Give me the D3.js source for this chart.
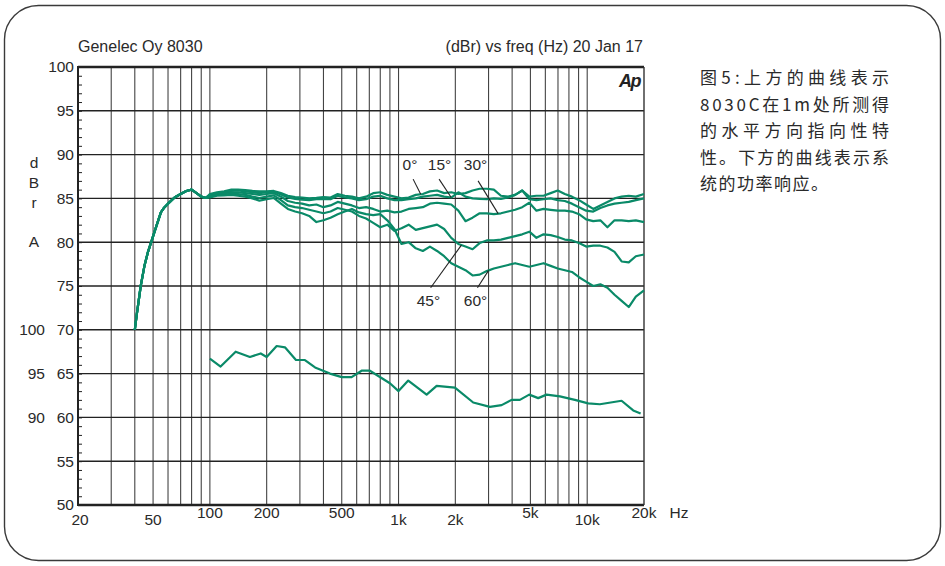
<!DOCTYPE html>
<html><head><meta charset="utf-8">
<script src="https://cdn.jsdelivr.net/npm/d3@7"></script>
<style>
body{margin:0;background:#fff;}
svg{display:block;font-family:"Liberation Sans",Arial,Helvetica,sans-serif;}
</style></head><body>
<svg id="chart" width="945" height="566"></svg>
<script>
// Low-frequency roll-off, common to every angle (Hz / dBr)
const lowFreqs = [40, 41, 42, 43, 45, 47, 49, 52, 55, 57, 60, 65, 70, 75, 80, 85, 90, 95];
const lowDb = [70.0, 71.8, 73.4, 75.0, 77.3, 78.9, 80.1, 81.8, 83.4, 83.9, 84.4, 85.1, 85.5, 85.85, 86.0, 85.6, 85.2, 85.05];

// Horizontal directivity, 1/8-octave points from 100 Hz
const freqs = [100, 109, 119, 130, 141, 154, 168, 183, 200, 218, 238, 259, 283, 308, 336, 367,
  400, 436, 476, 519, 566, 617, 673, 734, 800, 872, 951, 1037, 1131, 1234, 1345, 1467,
  1600, 1745, 1903, 2075, 2263, 2468, 2691, 2935, 3200, 3490, 3806, 4150, 4525, 4935, 5382, 5869,
  6400, 6979, 7611, 8300, 9051, 9870, 10763, 11738, 12800, 13959, 15222, 16600, 18102, 20000];
const deg0 = [85.5, 85.7, 85.8, 86.0, 86.0, 85.95, 85.85, 85.8, 85.8, 85.85, 85.6, 85.3, 85.15, 85.1, 85.0, 85.05,
  85.15, 85.1, 85.5, 85.3, 85.2, 85.0, 85.2, 85.6, 85.7, 85.4, 85.2, 85.0, 85.1, 85.4, 85.5, 85.8,
  85.9, 85.6, 85.7, 85.5, 85.6, 85.9, 86.1, 86.1, 86.0, 85.3, 85.2, 85.4, 85.9, 85.2, 85.3, 85.3,
  85.6, 85.9, 85.5, 85.2, 84.8, 84.3, 83.8, 84.2, 84.6, 85.0, 85.2, 85.3, 85.2, 85.5];
const deg15 = [85.4, 85.6, 85.7, 85.85, 85.9, 85.8, 85.7, 85.6, 85.7, 85.75, 85.45, 85.1, 84.95, 84.85, 84.8, 84.9,
  84.95, 84.9, 85.3, 85.1, 85.0, 84.8, 84.9, 85.2, 85.3, 85.0, 84.8, 84.8, 84.9, 85.0, 85.2, 85.3,
  85.4, 85.2, 85.1, 85.7, 85.2, 85.0, 84.95, 84.9, 85.0, 84.95, 85.1, 85.4, 85.9, 84.9, 84.8, 84.9,
  85.0, 84.8, 84.7, 84.4, 84.0, 83.6, 83.5, 83.9, 84.2, 84.4, 84.5, 84.6, 84.8, 85.0];
const deg30 = [85.3, 85.5, 85.6, 85.7, 85.7, 85.6, 85.5, 85.4, 85.5, 85.6, 85.2, 84.7, 84.5, 84.4, 84.2, 84.3,
  84.0, 84.2, 84.6, 84.4, 84.2, 83.9, 84.0, 83.8, 83.5, 83.6, 83.4, 83.5, 83.8, 83.9, 84.0, 84.4,
  84.5, 84.4, 84.3, 83.6, 82.4, 82.8, 83.3, 83.3, 83.2, 83.3, 83.5, 83.7, 84.0, 84.5, 83.6, 83.8,
  83.7, 83.6, 83.6, 83.5, 83.2, 82.6, 82.4, 82.5, 81.7, 82.5, 82.5, 82.4, 82.5, 82.3];
const deg45 = [85.2, 85.4, 85.5, 85.5, 85.5, 85.4, 85.2, 85.05, 85.2, 85.35, 84.8, 84.2, 84.0, 83.9, 83.7, 83.5,
  83.3, 83.5, 83.9, 83.7, 83.5, 83.0, 82.7, 82.2, 81.7, 82.0, 81.3, 81.6, 82.0, 81.4, 81.6, 81.8,
  82.0, 81.5, 80.5, 79.8, 79.5, 79.2, 79.9, 80.2, 80.2, 80.3, 80.5, 80.7, 80.9, 81.2, 80.5, 80.9,
  80.8, 80.6, 80.3, 80.2, 79.9, 79.5, 79.6, 79.6, 79.4, 78.9, 77.8, 77.7, 78.4, 78.6];
const deg60 = [85.1, 85.3, 85.35, 85.4, 85.3, 85.2, 85.0, 84.75, 84.9, 85.05, 84.4, 83.8, 83.5, 83.3, 83.0, 82.3,
  82.5, 82.8, 83.2, 83.5, 83.8, 83.4, 83.2, 83.1, 83.2, 82.5, 81.5, 79.8, 80.0, 79.3, 79.0, 79.5,
  79.0, 78.4, 77.6, 77.2, 76.8, 76.2, 76.3, 76.7, 77.0, 77.2, 77.4, 77.6, 77.4, 77.2, 77.4, 77.6,
  77.3, 77.0, 76.8, 76.6, 76.0, 75.5, 75.0, 75.2, 74.8, 74.0, 73.3, 72.6, 73.8, 74.5];

const angleNames = ["0°", "15°", "30°", "45°", "60°"];
const angleSeries = [deg0, deg15, deg30, deg45, deg60];

// System power response, read on the secondary scale (90-100)
const powerFreqs = [100, 114, 137, 163, 186, 200, 226, 250, 286, 319, 361, 433, 500, 564, 637, 705, 900, 1000,
  1126, 1409, 1592, 1990, 2488, 3050, 3518, 3975, 4396, 4928, 5498, 6092, 7168, 8604, 10120, 11674, 15212, 17532, 19192];
const powerDb = [96.7, 95.8, 97.5, 96.9, 97.3, 96.9, 98.15, 98.0, 96.55, 96.55, 95.7, 95.0, 94.6, 94.6, 95.33, 95.33, 93.9, 93.0,
  94.2, 92.6, 93.6, 93.4, 91.7, 91.2, 91.4, 92.0, 92.0, 92.6, 92.2, 92.6, 92.4, 92.0, 91.6, 91.5, 91.9, 90.8, 90.45];

// Axis ticks
const yTicks = [50, 55, 60, 65, 70, 75, 80, 85, 90, 95, 100];
const powerTicks = [90, 95, 100];
const xTickValues = [20, 50, 100, 200, 500, 1000, 2000, 5000, 10000, 20000];
const xTickLabels = ["20", "50", "100", "200", "500", "1k", "2k", "5k", "10k", "20k"];
const gridFreqs = [30, 40, 50, 60, 70, 80, 90, 100, 200, 300, 400, 500, 600, 700, 800, 900,
  1000, 2000, 3000, 4000, 5000, 6000, 7000, 8000, 9000, 10000];

// Where each angle label sits and the frequency its leader line points to
const angleNotes = [
  {name: "0°", tx: 1150, ty: 88.2, lx: 1195, ly: 87.2, f: 1311},
  {name: "15°", tx: 1650, ty: 88.2, lx: 1640, ly: 87.2, f: 1902},
  {name: "30°", tx: 2560, ty: 88.2, lx: 2640, ly: 87.0, f: 3372},
  {name: "45°", tx: 1440, ty: 72.7, lx: 1480, ly: 74.8, f: 2154},
  {name: "60°", tx: 2560, ty: 72.7, lx: 2620, ly: 74.8, f: 3002}
];

const captionLines = ["图5:上方的曲线表示", "8030C在1m处所测得", "的水平方向指向性特", "性。下方的曲线表示系", "统的功率响应。"];

const svg = d3.select("#chart");
const green = "#0a8a68";
const ink = "#2a2a2a";
const labelSize = 15.5;

const x = d3.scaleLog().domain([20, 20000]).range([78, 644]);
const y = d3.scaleLinear().domain([50, 100]).range([505, 67]);
const yPow = d3.scaleLinear().domain([80, 130]).range([505, 67]);

// rounded outer frame
svg.append("rect").attr("x", 4.5).attr("y", 5.5).attr("width", 936).attr("height", 555)
  .attr("rx", 34).attr("ry", 34).attr("fill", "none").attr("stroke", "#3a3a3a").attr("stroke-width", 1.4);

// vertical grid
svg.append("g").selectAll("line").data(gridFreqs).join("line")
  .attr("x1", d => x(d)).attr("x2", d => x(d)).attr("y1", y(100)).attr("y2", y(50))
  .attr("stroke", "#444").attr("stroke-width", 1.1);

// horizontal grid
svg.append("g").selectAll("line").data(yTicks.slice(1, -1)).join("line")
  .attr("x1", x(20)).attr("x2", x(20000)).attr("y1", d => y(d)).attr("y2", d => y(d))
  .attr("stroke", "#222").attr("stroke-width", 1.4);

// plot frame
svg.append("line").attr("x1", x(20)).attr("x2", x(20000)).attr("y1", y(100)).attr("y2", y(100))
  .attr("stroke", "#222").attr("stroke-width", 2.4);
svg.append("line").attr("x1", x(20)).attr("x2", x(20000)).attr("y1", y(50)).attr("y2", y(50))
  .attr("stroke", "#222").attr("stroke-width", 2.4);
svg.append("line").attr("x1", x(20000)).attr("x2", x(20000)).attr("y1", y(100)).attr("y2", y(50))
  .attr("stroke", "#333").attr("stroke-width", 1.4);
svg.append("line").attr("x1", x(20)).attr("x2", x(20)).attr("y1", y(100) - 1).attr("y2", y(50) + 1)
  .attr("stroke", "#222").attr("stroke-width", 2);

// 1 dB minor ticks on the inside of the left edge
svg.append("g").attr("transform", `translate(${x(20)},0)`)
  .call(d3.axisRight(y).tickValues(d3.range(50, 101)).tickSize(4).tickFormat(""))
  .call(g => g.select(".domain").remove())
  .call(g => g.selectAll("line").attr("stroke", "#222").attr("stroke-width", 1));

// main dB axis labels
svg.append("g").attr("transform", `translate(${x(20)},0)`)
  .call(d3.axisLeft(y).tickValues(yTicks).tickSize(0).tickPadding(4))
  .call(g => g.select(".domain").remove())
  .call(g => g.selectAll("text").attr("font-size", labelSize).attr("fill", ink)
    .attr("font-family", '"Liberation Sans", Arial, sans-serif'));

// power-response axis labels
svg.append("g").attr("transform", `translate(49,0)`)
  .call(d3.axisLeft(yPow).tickValues(powerTicks).tickSize(0).tickPadding(4))
  .call(g => g.select(".domain").remove())
  .call(g => g.selectAll("text").attr("font-size", labelSize).attr("fill", ink)
    .attr("font-family", '"Liberation Sans", Arial, sans-serif'));

// vertical unit letters
const unitLetters = [["d", 163], ["B", 183], ["r", 203], ["A", 242]];
svg.append("g").selectAll("text").data(unitLetters).join("text")
  .attr("x", 34).attr("y", d => d[1] + 5).attr("text-anchor", "middle")
  .attr("font-size", labelSize).attr("fill", ink).text(d => d[0]);

// frequency labels (alternate rows)
const raised = new Set([100, 200, 500, 5000, 20000]);
svg.append("g").selectAll("text").data(xTickValues).join("text")
  .attr("x", d => x(d) + (d === 20 ? 2 : 0))
  .attr("y", d => raised.has(d) ? 518 : 525)
  .attr("text-anchor", "middle").attr("font-size", labelSize).attr("fill", ink)
  .text((d, i) => xTickLabels[i]);
svg.append("text").attr("x", 679).attr("y", 518).attr("text-anchor", "middle")
  .attr("font-size", labelSize).attr("fill", ink).text("Hz");

// header
svg.append("text").attr("x", 78).attr("y", 52).attr("font-size", 16).attr("fill", ink).text("Genelec Oy 8030");
svg.append("text").attr("x", 643).attr("y", 52).attr("text-anchor", "end").attr("font-size", 16)
  .attr("fill", ink).text("(dBr) vs freq (Hz) 20 Jan 17");

// analyzer mark
svg.append("text").attr("x", 640).attr("y", 87).attr("text-anchor", "end")
  .attr("font-size", 18).attr("font-style", "italic").attr("font-weight", "bold")
  .attr("fill", "#222").attr("letter-spacing", -1.5).text("Ap");

// curves
const line = d3.line().x(d => x(d[0])).y(d => y(d[1]));
const linePow = d3.line().x(d => x(d[0])).y(d => yPow(d[1]));
const curves = angleSeries.map(vals =>
  lowFreqs.map((f, i) => [f, lowDb[i]]).concat(freqs.map((f, i) => [f, vals[i]])));

svg.append("g").selectAll("path").data(curves.slice().reverse()).join("path")
  .attr("d", line).attr("fill", "none").attr("stroke", green)
  .attr("stroke-width", 2.2).attr("stroke-linejoin", "round");

svg.append("path").datum(powerFreqs.map((f, i) => [f, powerDb[i]]))
  .attr("d", linePow).attr("fill", "none").attr("stroke", green)
  .attr("stroke-width", 2.2).attr("stroke-linejoin", "round");

// angle labels with leader lines ending on their curve
function valueAt(vals, f) {
  const i = d3.bisectLeft(freqs, f);
  const t = (Math.log(f) - Math.log(freqs[i - 1])) / (Math.log(freqs[i]) - Math.log(freqs[i - 1]));
  return vals[i - 1] + t * (vals[i] - vals[i - 1]);
}
const notes = svg.append("g");
angleNotes.forEach(n => {
  const v = valueAt(angleSeries[angleNames.indexOf(n.name)], n.f);
  notes.append("line").attr("x1", x(n.lx)).attr("y1", y(n.ly)).attr("x2", x(n.f)).attr("y2", y(v))
    .attr("stroke", "#222").attr("stroke-width", 1.1);
  notes.append("text").attr("x", x(n.tx)).attr("y", y(n.ty)).attr("text-anchor", "middle")
    .attr("font-size", labelSize).attr("fill", ink).text(n.name);
});

// caption
const cap = svg.append("g").attr("font-family", '"Noto Sans CJK SC", sans-serif')
  .attr("font-size", 17).attr("fill", "#2a2a2a");
captionLines.forEach((t, i) => {
  const el = cap.append("text").attr("x", 700).attr("y", 84 + i * 26.5).text(t);
  if (i < captionLines.length - 1) el.attr("textLength", 189).attr("lengthAdjust", "spacing");
  else el.attr("letter-spacing", 1.5);
});
</script>
</body></html>
